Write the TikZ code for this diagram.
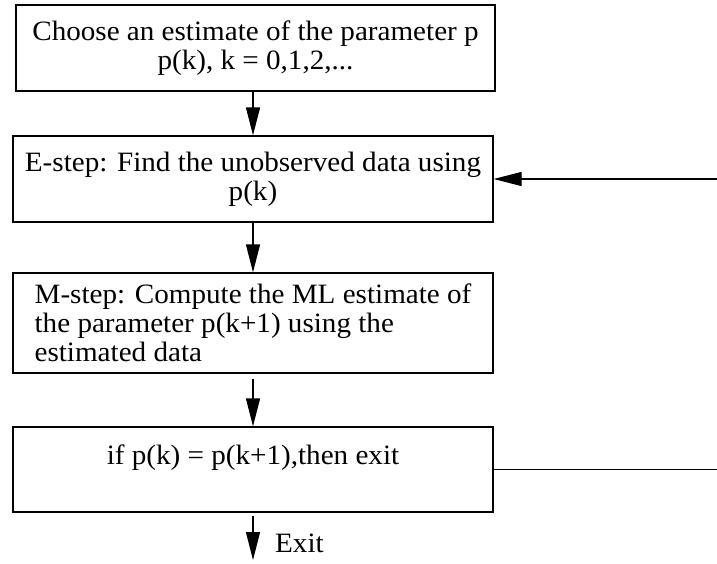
\documentclass[tikz,border=0pt]{standalone}
\usepackage{fontspec}
\setmainfont[FakeStretch=1.04]{Liberation Serif}
\usetikzlibrary{arrows.meta}
\begin{document}
\begin{tikzpicture}[x=1pt,y=1pt,
  box/.style={draw, line width=1.3pt, rectangle, inner sep=0pt, minimum width=480pt,
    font=\fontsize{28}{29}\selectfont},
  arr/.style={line width=1.3pt, -{Triangle[length=28pt,width=14pt]}},
  conn/.style={line width=1.3pt}]
\useasboundingbox (0,0) rectangle (717,-563);
\node[box, minimum width=479pt, minimum height=86pt, align=center] (b1) at (255.5,-48)
  {Choose an estimate of the parameter p\\p(k), k = 0,1,2,...};
\node[box, minimum height=86pt, align=center] (b2) at (253,-179)
  {E-step: Find the unobserved data using\\p(k)};
\node[box, minimum height=100pt, align=left] (b3) at (253,-323)
  {M-step: Compute the ML estimate of\\the parameter p(k+1) using the\\estimated data};
\node[box, minimum height=85pt, align=center] (b4) at (253,-469.5)
  {if p(k) = p(k+1),then exit\\\mbox{}};
\coordinate (exitend) at (253,-560);
\node[font=\fontsize{28}{29}\selectfont, anchor=west, inner sep=0pt] (exitlbl) at (275,-543) {Exit};
\coordinate (fbin) at (717,-179);
\coordinate (fbout) at (717,-469.5);
\draw[arr] (b1.south -| b2.north) -- (b2.north);
\draw[arr] (b2.south) -- (b3.north);
\draw[arr, shorten <=5pt] (b3.south) -- (b4.north);
\draw[arr, shorten <=3pt] (b4.south) -- (exitend);
\draw[arr] (fbin) -- (b2.east);
\draw[conn] (b4.east) -- (fbout);
\end{tikzpicture}
\end{document}
